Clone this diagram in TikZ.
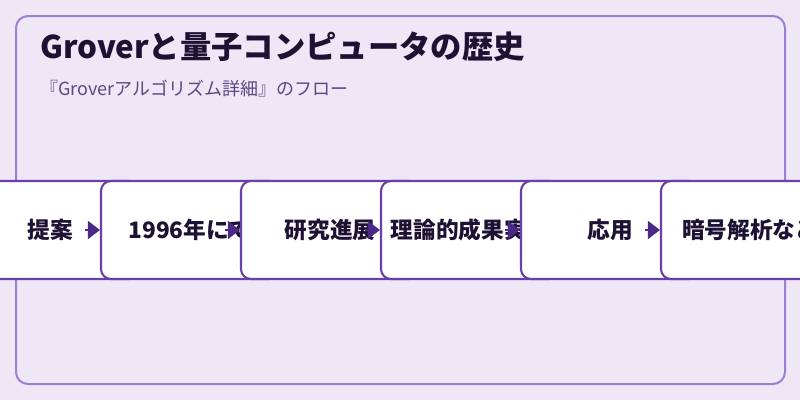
\documentclass[tikz,border=0pt]{standalone}
\usepackage{fontspec}
\setmainfont{Noto Sans CJK JP}
\usepackage{xcolor}
\usepackage{tikz}
\usetikzlibrary{calc,arrows.meta}
\definecolor{bg}{HTML}{EDE7F6}
\definecolor{panelline}{HTML}{9C7FD3}
\definecolor{boxline}{HTML}{6A3FA8}
\definecolor{arrowfill}{HTML}{4B2A86}
\definecolor{ink}{HTML}{1D1233}
\definecolor{subink}{HTML}{5A4886}
\tikzset{
  panel/.style={draw=panelline, fill=bg, line width=1.5pt, rounded corners=9pt},
  stagebox/.style={draw=boxline, fill=white, line width=1.6pt, rounded corners=7.5pt,
    minimum width=133.5pt, minimum height=73.5pt, inner sep=0pt,
    text=ink, font=\fontsize{17}{19}\selectfont\bfseries},
  flow/.style={draw=arrowfill, line width=1.2pt, -{Triangle[length=9pt, width=13.5pt, fill=arrowfill]}},
  titlelab/.style={text=ink, font=\fontsize{23.5}{28}\selectfont\bfseries, anchor=base west, inner sep=0pt},
  sublab/.style={text=subink, font=\fontsize{13.5}{16}\selectfont, anchor=base west, inner sep=0pt},
}
\begin{document}
\begin{tikzpicture}[x=0.75pt, y=-0.75pt]
  \useasboundingbox (0,0) rectangle (800,400);
  \fill[bg] (0,0) rectangle (800,400);
  \draw[panel] (16,16) rectangle (785,384);
  \node[titlelab] (title) at (40,58) {Groverと量子コンピュータの歴史};
  \node[sublab] (subtitle) at (40,95) {『Groverアルゴリズム詳細』のフロー};
  % stages, each one laid over the one before
  \foreach \i/\txt in {1/提案, 2/1996年にて, 3/研究進展, 4/理論的成果実証, 5/応用, 6/暗号解析など}
    \node[stagebox] (b\i) at ({-90+140*\i},230) {\txt};
  \foreach \i/\j in {1/2, 2/3, 3/4, 4/5, 5/6} {
    \coordinate (s\i) at ($(b\j.west)+(-15,0)$);
    \draw[flow] (s\i) -- (b\j.west);
  }
\end{tikzpicture}
\end{document}
